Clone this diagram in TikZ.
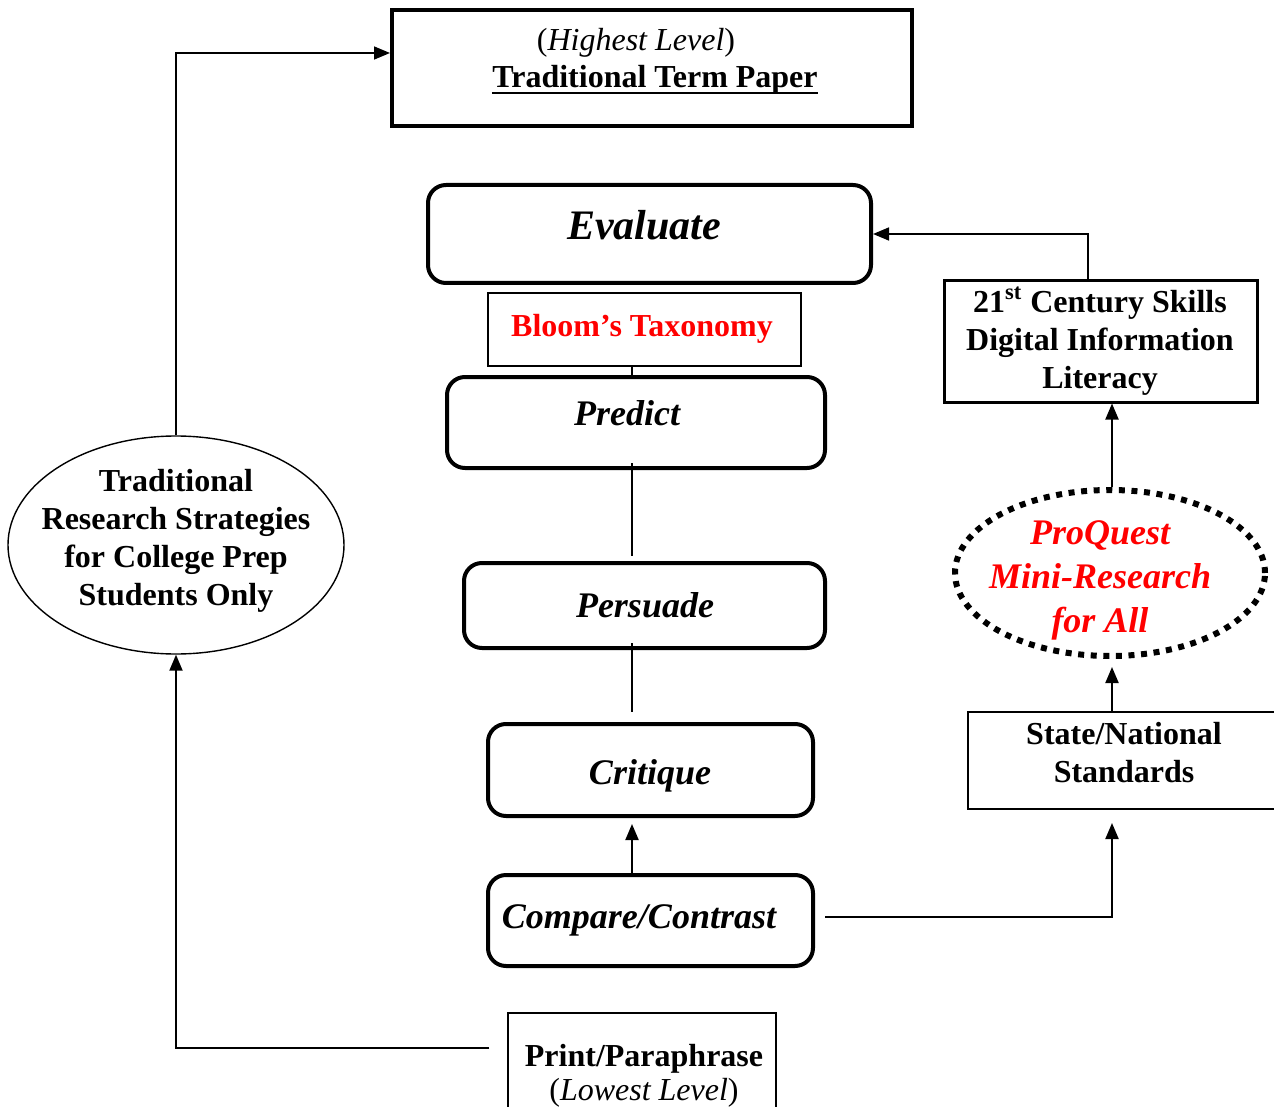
\documentclass[tikz,border=0pt]{standalone}
\usepackage{fontspec}
\setmainfont{Liberation Serif}
\usetikzlibrary{fit,arrows.meta,shapes.geometric}
\begin{document}
\begin{tikzpicture}[x=0.5pt,y=-0.5pt,
 thickbox/.style={draw,line width=2pt,inner sep=0pt},
 roundbox/.style={draw,line width=2pt,rounded corners=9pt,inner sep=0pt},
 thinbox/.style={draw,line width=0.7pt,inner sep=0pt},
 midbox/.style={draw,line width=1.5pt,inner sep=0pt},
 thinconn/.style={line width=0.6pt},
 arr/.style={line width=1pt,-{Triangle[length=8pt,width=6.5pt]}},
 lbl/.style={inner sep=0pt,align=center,font=\fontsize{16}{19}\selectfont\bfseries},
 rlbl/.style={inner sep=0pt,align=center,font=\fontsize{16}{19}\selectfont},
 bilbl/.style={inner sep=0pt,align=center,font=\fontsize{18}{22}\selectfont\bfseries\itshape},
]
\useasboundingbox (0,0) rectangle (1274,1107);
\coordinate (cx) at (632,0);
\coordinate (sx) at (1112,0);
\coordinate (ex) at (1088,0);
\coordinate (ly) at (0,1048);
\coordinate (ty) at (0,53);

% top box
\node[thickbox,fit={(392,10) (912,126)}] (top) {};
\node[rlbl] (hl) at (636,43) {(\textit{Highest Level})};
\node[lbl,anchor=base] (ttp) at (655,88) {Traditional Term Paper};
\draw[line width=1.4pt] ([yshift=-2.5pt]ttp.base west) -- ([yshift=-2.5pt]ttp.base east);

% Bloom column
\node[roundbox,fit={(428,185) (871,283)}] (eval) {};
\node[bilbl,font=\fontsize{21}{25}\selectfont\bfseries\itshape] (evalt) at (644,225) {Evaluate};
\node[thinbox,fit={(488,293) (801,366)}] (bl) {};
\node[lbl,text=red] (blt) at (642,329) {Bloom’s Taxonomy};
\node[roundbox,fit={(447,377) (825,468)}] (pr) {};
\node[bilbl] (prt) at (627,413) {Predict};
\node[roundbox,fit={(464,563) (825,648)}] (ps) {};
\node[bilbl] (pst) at (645,605) {Persuade};
\node[roundbox,fit={(488,724) (813,816)}] (cr) {};
\node[bilbl] (crt) at (650,776) {Critique};
\node[roundbox,fit={(488,875) (813,966)}] (cmp) {};
\node[bilbl] (cmpt) at (639,920) {Compare/Contrast};

% bottom box
\node[thinbox,fit={(508,1013) (776,1130)}] (pp) {};
\node[lbl] (ppt) at (644,1059) {Print/Paraphrase};
\node[rlbl] (pplt) at (644,1093) {(\textit{Lowest Level})};

% left ellipse
\node[ellipse,draw,line width=0.7pt,minimum width=168pt,minimum height=109pt,inner sep=0pt] (tr) at (176,545) {};
\node[lbl] (trt) at (176,541) {Traditional\\Research Strategies\\for College Prep\\Students Only};

% right column
\node[midbox,fit={(944,281) (1257,402)}] (dil) {};
\node[lbl] (dilt) at (1100,341) {21\textsuperscript{st} Century Skills\\Digital Information\\Literacy};
\node[ellipse,draw,line width=3pt,dash pattern=on 3pt off 3.3pt,minimum width=155pt,minimum height=83pt,inner sep=0pt] (pq) at (1110,573) {};
\node[bilbl,text=red] (pqt) at (1100,580) {ProQuest\\Mini-Research\\for All};
\node[midbox,line width=1pt,fit={(968,712) (1290,809)}] (std) {};
\node[lbl] (stdt) at (1124,753) {State/National\\Standards};

% connectors
\coordinate (cy) at (0,917);
\draw[thinconn] (bl.south -| cx) -- (pr.north -| cx);
\draw[thinconn,shorten <=-3.5pt,shorten >=2.5pt] (pr.south -| cx) -- (ps.north -| cx);
\draw[thinconn,shorten <=-3.5pt,shorten >=5pt] (ps.south -| cx) -- (cr.north -| cx);
\draw[arr,shorten >=3pt] (cmp.north -| cx) -- (cr.south -| cx);
\draw[arr,shorten <=5pt,shorten >=6.5pt] (cmp.east |- cy) -| (std.south -| sx);
\draw[arr,shorten >=4pt] (std.north -| sx) -- (pq.south -| sx);
\draw[arr] (pq.north -| sx) -- (dil.south -| sx);
\draw[line width=0.8pt,-{Triangle[length=8pt,width=6.5pt]}] (dil.north -| ex) |- (eval.east);
\draw[arr,shorten <=9pt] (pp.west |- ly) -| (tr.south);
\draw[line width=0.8pt,-{Triangle[length=8pt,width=6.5pt]}] (tr.north) |- (top.west |- ty);
\end{tikzpicture}
\end{document}
